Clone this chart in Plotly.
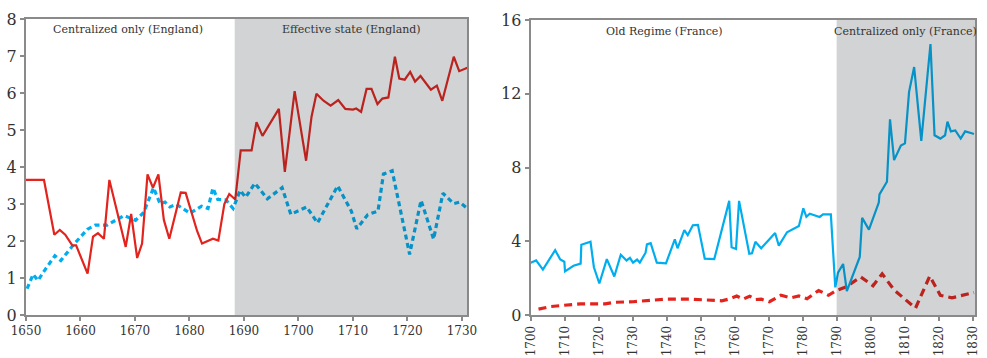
import plotly.graph_objects as go

# England panel
eng_red_year = [1650.0, 1653.3, 1655.2, 1656.2, 1657.2, 1658.5, 1659.2, 1661.3, 1662.3, 1663.2,
                1664.3, 1665.3, 1668.3, 1669.3, 1670.4, 1671.3, 1672.3, 1673.3, 1674.3, 1675.3,
                1676.3, 1678.4, 1679.3, 1680.4, 1681.4, 1682.3, 1684.3, 1685.3, 1686.4, 1687.3,
                1688.4, 1689.4, 1691.4, 1692.3, 1693.4, 1696.4, 1697.5, 1699.3, 1701.4, 1702.4,
                1703.3, 1704.6, 1705.9, 1707.3, 1708.6, 1710.0, 1710.6, 1711.5, 1712.5, 1713.4,
                1714.5, 1715.4, 1716.5, 1717.7, 1718.5, 1719.5, 1720.5, 1721.4, 1722.4, 1724.3,
                1725.4, 1726.4, 1728.5, 1729.5, 1731.0]
eng_red_val = [3.65, 3.65, 2.17, 2.30, 2.17, 1.88, 1.88, 1.12, 2.12, 2.21,
               2.06, 3.65, 1.84, 2.73, 1.54, 1.93, 3.80, 3.44, 3.80, 2.57,
               2.06, 3.31, 3.30, 2.75, 2.27, 1.93, 2.06, 2.01, 3.00, 3.27,
               3.12, 4.45, 4.45, 5.21, 4.84, 5.57, 3.87, 6.05, 4.17, 5.36,
               5.98, 5.79, 5.66, 5.81, 5.57, 5.55, 5.58, 5.49, 6.11, 6.11,
               5.70, 5.85, 5.88, 6.98, 6.39, 6.36, 6.57, 6.31, 6.46, 6.09,
               6.20, 5.79, 6.98, 6.59, 6.68]

eng_blue_year = [1650.2, 1651.3, 1652.2, 1653.1, 1655.3, 1656.4, 1658.6, 1661.3, 1662.7, 1664.9,
                 1668.0, 1670.1, 1671.6, 1673.4, 1674.6, 1675.5, 1676.4, 1677.6, 1680.1, 1682.2,
                 1683.4, 1684.3, 1685.2, 1686.7, 1688.0, 1689.3, 1690.3, 1692.0, 1694.3, 1697.0,
                 1698.6, 1701.5, 1703.5, 1707.2, 1709.7, 1710.7, 1712.7, 1714.6, 1715.6, 1717.2,
                 1720.4, 1722.5, 1724.8, 1726.5, 1728.5, 1729.6, 1731.0]
eng_blue_val = [0.71, 1.10, 0.93, 1.14, 1.60, 1.47, 1.88, 2.32, 2.43, 2.43,
                2.69, 2.56, 2.77, 3.44, 3.01, 3.05, 2.92, 2.99, 2.75, 2.94,
                2.88, 3.43, 3.12, 3.11, 2.88, 3.37, 3.18, 3.56, 3.14, 3.44,
                2.72, 2.92, 2.49, 3.49, 2.81, 2.33, 2.71, 2.81, 3.81, 3.90,
                1.64, 3.10, 2.05, 3.29, 3.01, 3.05, 2.88]

# France panel
fr_blue_year = [1700.0, 1701.6, 1703.6, 1707.2, 1708.7, 1709.9, 1710.1, 1712.6, 1714.7, 1714.9,
                1717.6, 1718.6, 1720.2, 1722.4, 1724.6, 1726.5, 1728.2, 1729.2, 1730.1, 1731.3,
                1732.1, 1733.8, 1734.2, 1735.3, 1737.1, 1739.8, 1742.4, 1743.2, 1745.2, 1746.2,
                1747.7, 1749.2, 1751.2, 1754.0, 1758.4, 1759.1, 1760.4, 1761.3, 1764.3, 1765.1,
                1766.1, 1767.8, 1771.9, 1773.0, 1775.4, 1778.9, 1780.2, 1781.1, 1782.1, 1785.0,
                1786.0, 1788.3, 1789.6, 1790.4, 1791.9, 1793.0, 1796.8, 1797.5, 1799.5, 1802.4,
                1802.6, 1804.8, 1805.7, 1806.9, 1808.9, 1810.1, 1811.3, 1812.8, 1814.9, 1817.6,
                1818.8, 1820.5, 1821.9, 1822.6, 1823.6, 1824.9, 1826.5, 1827.8, 1829.5, 1830.4]
fr_blue_val = [2.84, 2.96, 2.46, 3.52, 3.01, 2.89, 2.37, 2.67, 2.79, 3.81,
               3.97, 2.59, 1.71, 3.03, 2.09, 3.27, 2.96, 3.10, 2.84, 3.01,
               2.84, 3.38, 3.83, 3.90, 2.84, 2.80, 4.10, 3.62, 4.60, 4.33,
               4.87, 4.89, 3.06, 3.03, 6.19, 3.67, 3.58, 6.19, 3.32, 3.35,
               3.97, 3.62, 4.45, 3.76, 4.49, 4.83, 5.79, 5.32, 5.49, 5.32,
               5.46, 5.46, 1.50, 2.30, 2.77, 1.30, 3.15, 5.27, 4.63, 6.10,
               6.54, 7.23, 10.61, 8.40, 9.19, 9.31, 12.09, 13.45, 9.44, 14.70,
               9.75, 9.57, 9.75, 10.49, 9.96, 10.01, 9.57, 9.96, 9.87, 9.82]

fr_red_year = [1702.3, 1706.0, 1709.9, 1714.7, 1721.9, 1724.8, 1730.1, 1736.9, 1739.8, 1747.0,
               1754.3, 1756.2, 1758.2, 1760.6, 1762.5, 1764.4, 1766.1, 1767.8, 1770.2, 1773.6,
               1776.5, 1778.9, 1781.3, 1784.7, 1787.6, 1790.0, 1792.5, 1797.1, 1800.7, 1803.4,
               1806.9, 1813.2, 1817.4, 1820.5, 1823.9, 1829.5, 1830.4]
fr_red_val = [0.32, 0.46, 0.53, 0.60, 0.60, 0.69, 0.72, 0.81, 0.86, 0.86,
              0.81, 0.77, 0.86, 1.03, 0.86, 1.02, 0.84, 0.86, 0.72, 1.07,
              0.93, 1.03, 0.88, 1.33, 1.07, 1.33, 1.50, 2.06, 1.59, 2.23,
              1.36, 0.37, 2.11, 1.07, 0.93, 1.19, 1.22]

eng_ticks = [1650, 1660, 1670, 1680, 1690, 1700, 1710, 1720, 1730]
eng_yticks = [0, 1, 2, 3, 4, 5, 6, 7, 8]
fr_ticks = list(range(1700, 1831, 10))
fr_yticks = [0, 4, 8, 12, 16]

eng_periods = [("Centralized only (England)", 1650, 1688.3, 1668.7),
               ("Effective state (England)", 1688.3, 1731, 1709.7)]
fr_periods = [("Old Regime (France)", 1700, 1790, 1739.4),
              ("Centralized only (France)", 1790, 1830.7, 1810.4)]

RED = "#e3231d"
BLUE = "#00aeef"
FRAME = "#8a8a8a"
FONT = "DejaVu Serif"

fig = go.Figure()
fig.add_trace(go.Scatter(x=eng_blue_year, y=eng_blue_val, mode="lines", xaxis="x", yaxis="y",
                         line=dict(color=BLUE, width=3.2, dash="5px,3.5px")))
fig.add_trace(go.Scatter(x=eng_red_year, y=eng_red_val, mode="lines", xaxis="x", yaxis="y",
                         line=dict(color=RED, width=2.2)))
fig.add_trace(go.Scatter(x=fr_red_year, y=fr_red_val, mode="lines", xaxis="x2", yaxis="y2",
                         line=dict(color=RED, width=3.2, dash="8px,5px")))
fig.add_trace(go.Scatter(x=fr_blue_year, y=fr_blue_val, mode="lines", xaxis="x2", yaxis="y2",
                         line=dict(color=BLUE, width=2.2)))

shapes = []
annotations = []
for i, (label, x0, x1, xc) in enumerate(eng_periods):
    if i == 1:
        shapes.append(dict(type="rect", xref="x", yref="y domain", x0=x0, x1=x1, y0=0, y1=1,
                           fillcolor="rgba(30,35,40,0.2)", line=dict(width=0), layer="above"))
    annotations.append(dict(text=label, x=xc, y=7.72, xref="x", yref="y", showarrow=False,
                            font=dict(family=FONT, size=11, color="#333333")))
for i, (label, x0, x1, xc) in enumerate(fr_periods):
    if i == 1:
        shapes.append(dict(type="rect", xref="x2", yref="y2 domain", x0=x0, x1=x1, y0=0, y1=1,
                           fillcolor="rgba(30,35,40,0.2)", line=dict(width=0), layer="above"))
    annotations.append(dict(text=label, x=xc, y=15.4, xref="x2", yref="y2", showarrow=False,
                            font=dict(family=FONT, size=11, color="#333333")))

axis_common = dict(showline=True, linecolor=FRAME, linewidth=2, mirror=True, showgrid=False,
                   zeroline=False, ticks="outside", ticklen=4, tickcolor=FRAME, tickwidth=1.5)

fig.update_layout(
    width=987, height=358,
    margin=dict(l=26, r=2, t=19, b=32),
    paper_bgcolor="white", plot_bgcolor="white",
    showlegend=False,
    font=dict(family=FONT, color="#333333"),
    shapes=shapes, annotations=annotations,
    xaxis=dict(domain=[0, 0.4651], range=[1650, 1731], tickvals=eng_ticks,
               tickfont=dict(family=FONT, size=12), anchor="y", **axis_common),
    yaxis=dict(domain=[0, 1], range=[0, 8], tickvals=eng_yticks,
               tickfont=dict(family=FONT, size=16), anchor="x", **axis_common),
    xaxis2=dict(domain=[0.5318, 1.0], range=[1700, 1830.7], tickvals=fr_ticks,
                tickangle=-90, tickfont=dict(family=FONT, size=12), anchor="y2", **axis_common),
    yaxis2=dict(domain=[0, 0.9965], range=[0, 16], tickvals=fr_yticks,
                tickfont=dict(family=FONT, size=16), anchor="x2", **axis_common),
)

fig.write_html("out.html")
